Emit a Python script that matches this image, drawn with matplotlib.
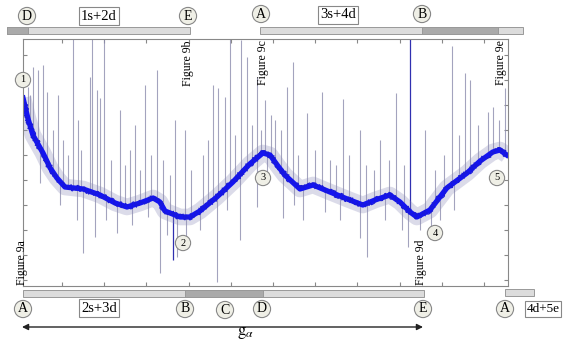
import numpy as np
import matplotlib
matplotlib.use("Agg")
import matplotlib.pyplot as plt
from matplotlib.patches import Rectangle

plt.rcParams['font.family'] = ['Liberation Serif', 'DejaVu Serif']
plt.rcParams['mathtext.fontset'] = 'stix'

# smoothed trend of the signal
trend_x = [0.76, 1.9, 3.1, 5.5, 7.2, 8.8, 10.7, 15.0, 19.0, 22.6, 25.4, 28.5, 31.6, 33.2,
           34.4, 38.0, 40.3, 42.7, 46.7, 50.5, 54.5, 57.6, 59.3, 61.0, 62.8, 66.4, 69.5,
           73.5, 78.2, 81.3, 84.2, 87.7, 90.1, 92.5, 94.1, 97.2, 101.2, 106.0, 109.1,
           112.1, 113.8, 115.4]
trend_y = [72.8, 64.8, 58, 50.8, 44.8, 40.8, 37.2, 36.4, 34, 30.8, 29.2, 30.8, 32.8, 31.2,
           27.6, 25.2, 25.2, 27.6, 33.2, 39.2, 46.4, 50.8, 50, 46, 42, 36.4, 38,
           35.2, 32, 30, 32, 34, 31.2, 27.2, 25.2, 28, 36.8, 42.8, 47.6,
           51.2, 52, 50]

# spikes going up / down from the trend (position, tip value)
up_x = [1.9, 3.1, 4.3, 5.5, 6.4, 9.1, 12.6, 13.8, 16.6, 17.1, 18.3, 19.0, 20.0, 23.7, 27.3,
        29.7, 32.5, 36.8, 39.1, 45.8, 47.0, 48.6, 49.8, 52.4, 53.8, 56.2, 58.1, 60.5, 63.3,
        64.7, 68.1, 71.6, 76.6, 80.6, 85.4, 89.1, 96.0, 102.4, 105.5, 106.7, 110.9, 112.1,
        115.0,
        2.5, 7.8, 10.2, 11.5, 14.6, 21.5, 25.0, 26.2, 28.6, 31.0, 34.0, 35.5, 40.5, 43.5,
        44.6, 51.0, 55.0, 57.2, 59.5, 62.0, 66.0, 70.0, 73.5, 75.0, 78.0, 82.0, 84.0,
        87.5, 91.0, 98.5, 100.5, 104.0, 108.5, 113.5]
up_y = [77.2, 85.2, 84, 86, 75.2, 74, 96.4, 64, 81.2, 96.4, 76, 72.8, 96.4, 68, 62,
        78, 84, 64, 60, 78, 76.8, 73.2, 96.4, 96, 89.2, 81.2, 72, 64, 77.2,
        87.2, 66.8, 75.2, 72.4, 60, 56, 74.8, 60, 93.6, 82.8, 80, 67.2, 69.2,
        76.8,
        74, 60, 56, 50, 52, 48, 46, 52, 44, 50, 48, 42, 44, 50,
        56, 58, 62, 60, 66, 60, 50, 52, 48, 46, 50, 46, 44,
        48, 46, 44, 50, 58, 62, 64]
down_x = [4.8, 13.6, 15.0, 17.8, 23.0, 30.4, 33.2, 37.2, 42.7, 46.7, 52.2, 56.2, 62.4, 67.1,
          72.3, 80.6, 82.3, 92.0, 94.8, 99.6,
          9.5, 20.5, 26.5, 35.0, 39.5, 49.0, 58.5, 65.0, 76.0, 86.5, 90.5, 97.5, 103.0]
down_y = [38.8, 24, 10.8, 17.2, 18.8, 25.2, 2.8, 9.2, 20, -0.8, 16, 29.2, 24.8, 24,
          27.2, 16.8, 9.2, 13.2, 20, 24,
          30, 24, 22, 18, 17, 28, 40, 30, 24, 24, 20, 18, 28]
blue_x = [36.3, 92.5]
blue_y = [8, 96.4]

fig = plt.figure(figsize=(5.63, 3.43), dpi=100)
ax = fig.add_axes([23 / 563, 57 / 343, 485 / 563, 247 / 343])

base_up = np.interp(up_x, trend_x, trend_y)
base_dn = np.interp(down_x, trend_x, trend_y)
base_bl = np.interp(blue_x, trend_x, trend_y)
ax.vlines(up_x, base_up, up_y, color='#8c8cae', lw=0.8, alpha=0.8)
ax.vlines(down_x, down_y, base_dn, color='#8c8cae', lw=0.8, alpha=0.8)
ax.vlines(blue_x, np.minimum(blue_y, base_bl), np.maximum(blue_y, base_bl), color='#3030b0', lw=0.9)

ax.plot(trend_x, trend_y, color='#8a8ab8', lw=12, alpha=0.3, solid_capstyle='butt')
ax.plot(trend_x, trend_y, color='#1414f0', lw=3.8)
jag, = ax.plot(trend_x, trend_y, color='#1818d8', lw=0.8)
jag.set_sketch_params(scale=3, length=6, randomness=20)

ax.set_xlim(0.76, 115.7)
ax.set_ylim(-2.4, 96.4)
ax.set_xticks(np.arange(10, 111, 10))
ax.set_yticks(np.arange(0, 91, 10))
ax.tick_params(direction='in', length=3, color='#888888', top=True, right=True,
               labelbottom=False, labelleft=False)
for s in ax.spines.values():
    s.set_color('#888888')
    s.set_linewidth(0.8)

# overlay in pixel coordinates for the schematic bars and labels
ov = fig.add_axes([0, 0, 1, 1], zorder=5)
ov.set_xlim(0, 563)
ov.set_ylim(343, 0)
ov.axis('off')
ov.patch.set_alpha(0)

light, dark, edge = '#dcdcdc', '#aaaaaa', '#999999'
bars = [(7, 190, 27, [(7, 28)]), (260, 523, 27, [(422, 498)]),
        (23, 424, 290, [(185, 263)]), (505, 534, 289, [])]
for x0, x1, y0, darks in bars:
    ov.add_patch(Rectangle((x0, y0), x1 - x0, 7, fc=light, ec=edge, lw=0.7))
    for d0, d1 in darks:
        ov.add_patch(Rectangle((d0, y0), d1 - d0, 7, fc=dark, ec=edge, lw=0.7))

circ = dict(boxstyle='circle,pad=0.15', fc='#efefe6', ec='#888888', lw=0.8)
letters = [('D', 27, 16), ('E', 188, 16), ('A', 261, 14), ('B', 422, 14),
           ('A', 23, 309), ('B', 185, 309), ('C', 225, 310), ('D', 262, 309),
           ('E', 423, 309), ('A', 505, 309)]
for t, x, y in letters:
    ov.text(x, y, t, ha='center', va='center', fontsize=10, bbox=circ)

boxes = [('1s+2d', 99, 16, 10.5), ('3s+4d', 338, 15, 10.5), ('2s+3d', 99, 308, 10.5),
         ('4d+5e', 543, 309, 9.5)]
box = dict(boxstyle='square,pad=0.15', fc='white', ec='#888888', lw=0.8)
for t, x, y, fs in boxes:
    ov.text(x, y, t, ha='center', va='center', fontsize=fs, bbox=box)

numc = dict(boxstyle='circle,pad=0.3', fc='#efefe6', ec='#888888', lw=0.8)
for t, x, y in [('1', 23, 80), ('2', 183, 243), ('3', 263, 178), ('4', 435, 233), ('5', 497, 178)]:
    ov.text(x, y, t, ha='center', va='center', fontsize=7.5, bbox=numc)

for t, x, y, va in [('Figure 9a', 22, 285, 'bottom'), ('Figure 9b', 188, 40, 'top'),
                    ('Figure 9c', 263, 40, 'top'), ('Figure 9d', 421, 285, 'bottom'),
                    ('Figure 9e', 501, 40, 'top')]:
    ov.text(x, y, t, rotation=90, ha='center', va=va, fontsize=8.5)

ov.annotate('', xy=(22, 327), xytext=(423, 327),
            arrowprops=dict(arrowstyle='<|-|>', color='#222222', lw=1, mutation_scale=9,
                            shrinkA=0, shrinkB=0))
ov.text(245, 333, r'$\mathrm{g}_{\alpha}$', ha='center', va='center', fontsize=12)

fig.savefig('out.png', dpi=100)
